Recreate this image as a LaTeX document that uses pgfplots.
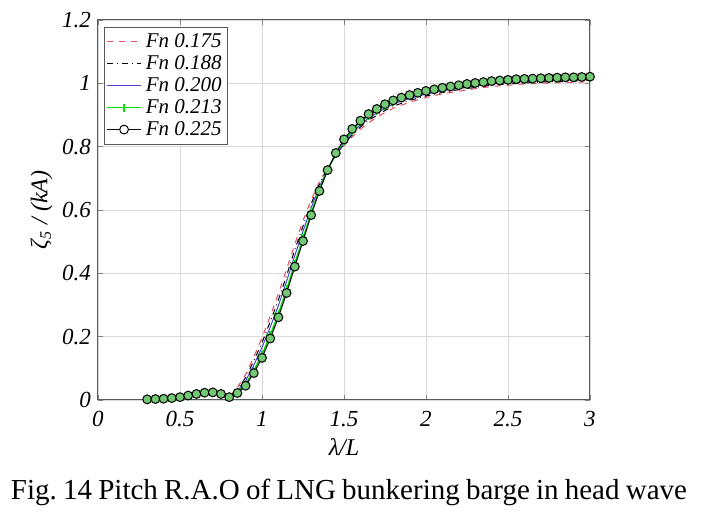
\documentclass[border=0pt]{standalone}
\usepackage{fontspec}
\setmainfont{Liberation Serif}
\usepackage{pgfplots}
\pgfplotsset{compat=1.18}

\definecolor{fnred}{RGB}{225,75,95}
\definecolor{fnblue}{RGB}{70,70,210}
\definecolor{fngreen}{RGB}{0,225,0}
\definecolor{fnfill}{RGB}{115,200,115}

\begin{document}
\frenchspacing
\begin{tikzpicture}
\useasboundingbox (-49pt,-56pt) rectangle (302pt,200pt);
\begin{axis}[
    scale only axis,
    width=246pt, height=190pt,
    xmin=0, xmax=3, ymin=0, ymax=1.2,
    xtick={0,0.5,...,3}, ytick={0,0.2,...,1.2},
    grid=major, grid style={gray!30, line width=0.4pt},
    tick align=inside, major tick length=2.5pt,
    axis line style={gray!70!black, line width=0.5pt},
    /pgf/number format/assume math mode=true,
    ticklabel style={font=\fontsize{11.5}{13}\selectfont\itshape},
    xticklabel style={yshift=-2pt},
    xlabel={\textit{λ/L}}, ylabel={\textit{ζ\textsubscript{5} / (kA)}},
    label style={font=\fontsize{12}{14}\selectfont},
    xlabel style={yshift=1pt},
    ylabel style={yshift=-2pt},
    legend cell align=left,
    legend style={at={(axis description cs:0.012,0.982)}, anchor=north west,
        font=\fontsize{10.5}{11}\selectfont\itshape, draw=gray!70!black,
        inner sep=1pt, row sep=-1.5pt},
]
\addplot[fnred, dashed, line width=0.5pt] coordinates {
(0.3,0.002)(0.35,0.003)(0.4,0.004)(0.45,0.006)(0.5,0.009)(0.55,0.014)(0.6,0.019)(0.65,0.023)(0.7,0.024)(0.75,0.019)(0.8,0.009)
(0.85,0.04)(0.9,0.08)(0.95,0.136)(1.0,0.196)(1.05,0.265)(1.1,0.336)(1.15,0.413)(1.2,0.492)(1.25,0.566)(1.3,0.632)(1.35,0.689)(1.4,0.733)(1.45,0.77)(1.5,0.803)(1.55,0.831)(1.6,0.855)(1.65,0.876)(1.7,0.892)(1.75,0.908)(1.8,0.921)(1.85,0.931)(1.9,0.940)(1.95,0.948)(2.0,0.955)
(2.1,0.967)(2.2,0.975)(2.3,0.983)(2.4,0.99)(2.5,0.994)(2.6,0.998)(2.7,1.0)(2.8,1.002)(2.9,1.003)(3.0,1.005)
};
\addlegendentry{Fn 0.175}
\addplot[black, dash dot, line width=0.5pt] coordinates {
(0.3,0.002)(0.35,0.003)(0.4,0.004)(0.45,0.006)(0.5,0.009)(0.55,0.014)(0.6,0.019)(0.65,0.023)(0.7,0.024)(0.75,0.019)(0.8,0.009)
(0.85,0.034)(0.9,0.07)(0.95,0.124)(1.0,0.181)(1.05,0.247)(1.1,0.316)(1.15,0.393)(1.2,0.474)(1.25,0.549)(1.3,0.62)(1.35,0.681)(1.4,0.731)(1.45,0.773)(1.5,0.808)(1.55,0.837)(1.6,0.862)(1.65,0.883)(1.7,0.899)(1.75,0.914)(1.8,0.927)(1.85,0.937)(1.9,0.946)(1.95,0.953)(2.0,0.96)
(2.1,0.971)(2.2,0.98)(2.3,0.987)(2.4,0.994)(2.5,0.998)(2.6,1.001)(2.7,1.004)(2.8,1.006)(2.9,1.007)(3.0,1.009)
};
\addlegendentry{Fn 0.188}
\addplot[fnblue, solid, line width=0.5pt] coordinates {
(0.3,0.002)(0.35,0.003)(0.4,0.004)(0.45,0.006)(0.5,0.009)(0.55,0.014)(0.6,0.019)(0.65,0.023)(0.7,0.024)(0.75,0.019)(0.8,0.009)
(0.85,0.029)(0.9,0.06)(0.95,0.11)(1.0,0.166)(1.05,0.23)(1.1,0.298)(1.15,0.375)(1.2,0.456)(1.25,0.533)(1.3,0.607)(1.35,0.674)(1.4,0.728)(1.45,0.775)(1.5,0.813)(1.55,0.844)(1.6,0.869)(1.65,0.89)(1.7,0.906)(1.75,0.921)(1.8,0.934)(1.85,0.944)(1.9,0.952)(1.95,0.959)(2.0,0.966)
(2.1,0.977)(2.2,0.985)(2.3,0.992)(2.4,0.998)(2.5,1.003)(2.6,1.006)(2.7,1.008)(2.8,1.01)(2.9,1.011)(3.0,1.013)
};
\addlegendentry{Fn 0.200}
\addplot[fngreen, solid, line width=0.7pt, mark=+, mark size=2pt] coordinates {
(0.3,0.002)(0.35,0.003)(0.4,0.004)(0.45,0.006)(0.5,0.009)(0.55,0.014)(0.6,0.019)(0.65,0.023)(0.7,0.024)(0.75,0.019)(0.8,0.009)
(0.85,0.025)(0.9,0.05)(0.95,0.093)(1.0,0.143)(1.05,0.205)(1.1,0.272)(1.15,0.349)(1.2,0.431)(1.25,0.511)(1.3,0.591)(1.35,0.664)(1.4,0.727)(1.45,0.778)(1.5,0.819)(1.55,0.851)(1.6,0.877)(1.65,0.898)(1.7,0.914)(1.75,0.929)(1.8,0.941)(1.85,0.951)(1.9,0.959)(1.95,0.966)(2.0,0.972)
(2.05,0.978)(2.1,0.983)(2.15,0.987)(2.2,0.991)(2.25,0.995)(2.3,0.998)(2.35,1.001)(2.4,1.004)(2.45,1.006)(2.5,1.008)(2.55,1.010)(2.6,1.011)(2.65,1.012)(2.7,1.013)(2.75,1.014)(2.8,1.015)(2.85,1.016)(2.9,1.016)(2.95,1.017)(3.0,1.018)
};
\addlegendentry{Fn 0.213}
\addplot[black, solid, line width=0.5pt, mark=*, mark size=2.2pt,
    mark options={draw=black, fill=fnfill},
    legend image post style={mark options={draw=black, fill=white}}] coordinates {
(0.3,0.002)(0.35,0.003)(0.4,0.004)(0.45,0.006)(0.5,0.009)(0.55,0.014)(0.6,0.019)(0.65,0.023)(0.7,0.024)(0.75,0.019)(0.8,0.009)
(0.85,0.022)(0.9,0.045)(0.95,0.085)(1.0,0.133)(1.05,0.194)(1.1,0.261)(1.15,0.338)(1.2,0.421)(1.25,0.502)(1.3,0.584)(1.35,0.66)(1.4,0.726)(1.45,0.78)(1.5,0.823)(1.55,0.856)(1.6,0.882)(1.65,0.903)(1.7,0.919)(1.75,0.934)(1.8,0.946)(1.85,0.955)(1.9,0.963)(1.95,0.97)(2.0,0.976)
(2.05,0.981)(2.1,0.986)(2.15,0.99)(2.2,0.994)(2.25,0.998)(2.3,1.001)(2.35,1.004)(2.4,1.007)(2.45,1.009)(2.5,1.011)(2.55,1.013)(2.6,1.014)(2.65,1.015)(2.7,1.016)(2.75,1.017)(2.8,1.018)(2.85,1.019)(2.9,1.019)(2.95,1.02)(3.0,1.021)
};
\addlegendentry{Fn 0.225}
\end{axis}
\node[anchor=base, font=\fontsize{14.5}{16}\selectfont] at (125.5pt,-50pt)
  {\makebox[338pt][s]{Fig. 14 Pitch R.A.O of LNG bunkering barge in head wave}};
\end{tikzpicture}
\end{document}
